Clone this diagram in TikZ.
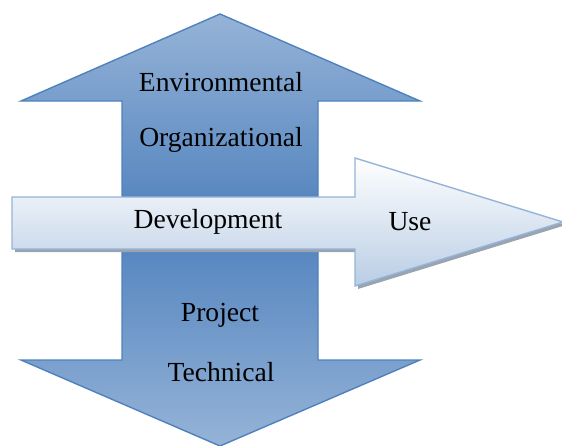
\documentclass[tikz,border=0pt]{standalone}
\usepackage{fontspec}
\setmainfont{Liberation Serif}
\newfontfamily\lblfont{Liberation Serif}
\definecolor{vlight}{HTML}{95B3D7}
\definecolor{vdark}{HTML}{4F81BD}
\definecolor{hline}{HTML}{95B3D7}
\definecolor{hbottom}{HTML}{B9CDE5}
\definecolor{shadowgray}{HTML}{9AA3B0}
\begin{document}
\begin{tikzpicture}[x=1pt,y=-1pt,
  varrow/.style={draw=vdark,line width=1.4pt,line join=miter},
  harrow/.style={draw=hline,line width=1.4pt,line join=miter,top color=white,bottom color=hbottom},
  lbl/.style={font=\lblfont\fontsize{27.6}{30}\selectfont,inner sep=0pt}]
\useasboundingbox (0,0) rectangle (562,445);
% up arrow
\path[varrow,top color=vlight,bottom color=vdark]
  (220,14) -- (420,101) -- (318,101) -- (318,224) -- (122,224) -- (122,101) -- (21,101) -- cycle;
% down arrow
\path[varrow,top color=vdark,bottom color=vlight]
  (122,222) -- (318,222) -- (318,360) -- (420,360) -- (220,446) -- (21,360) -- (122,360) -- cycle;
\fill[vdark] (123.5,215) rectangle (316.5,230);
% horizontal arrow shadow
\fill[shadowgray] (15,200) -- (358,200) -- (358,161) -- (566,225) -- (358,289) -- (358,252) -- (15,252) -- cycle;
% horizontal arrow
\path[harrow]
  (12,197) -- (355,197) -- (355,158) -- (563,222) -- (355,286) -- (355,249) -- (12,249) -- cycle;
% labels
\node[lbl] (env) at (221,82) {Environmental};
\node[lbl] (org) at (221,140) {Organizational};
\node[lbl] (dev) at (208,222) {Development};
\node[lbl] (use) at (410,222) {Use};
\node[lbl] (proj) at (220,315) {Project};
\node[lbl] (tech) at (221,372) {Technical};
\end{tikzpicture}
\end{document}
